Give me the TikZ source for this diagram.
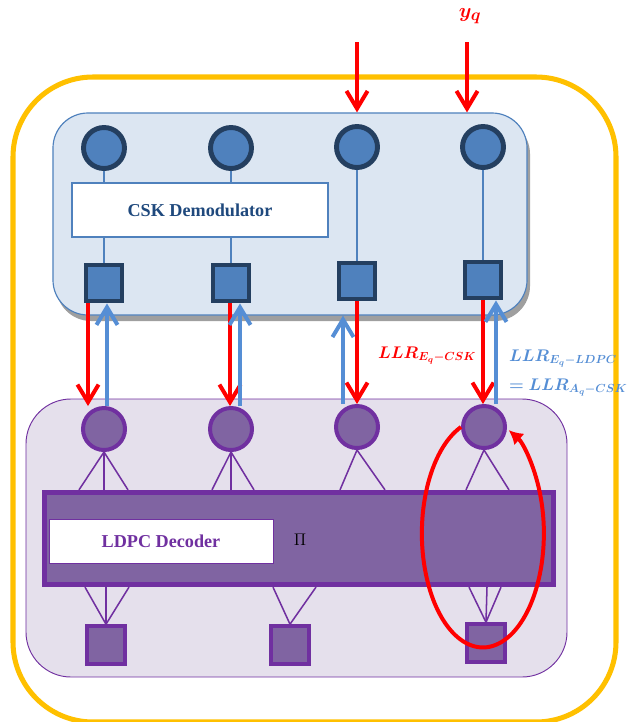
\documentclass[tikz,border=0pt]{standalone}
\usepackage{fontspec}
\setmainfont{Liberation Serif}
\usepackage{amsmath,bm}
\usetikzlibrary{positioning, arrows.meta}

\definecolor{cskfill}{HTML}{DCE6F2}
\definecolor{cskblue}{HTML}{4F81BD}
\definecolor{cskdark}{HTML}{243F60}
\definecolor{csktext}{HTML}{1F497D}
\definecolor{ldpcfill}{HTML}{E5E0EC}
\definecolor{ldpcpurple}{HTML}{7030A0}
\definecolor{ldpclilac}{HTML}{8064A2}
\definecolor{frameyellow}{HTML}{FFC000}
\definecolor{llrblue}{HTML}{558ED5}

\tikzset{
	symnode/.style={circle, draw=cskdark, line width=4.2pt, fill=cskblue, minimum size=1.23cm, inner sep=0pt},
	symbox/.style={rectangle, draw=cskdark, line width=4.2pt, fill=cskblue, minimum size=1.08cm, inner sep=0pt},
	varnode/.style={circle, draw=ldpcpurple, line width=3.4pt, fill=ldpclilac, minimum size=1.26cm, inner sep=0pt},
	chknode/.style={rectangle, draw=ldpcpurple, line width=3.6pt, fill=ldpclilac, minimum size=1.12cm, inner sep=0pt},
	redarrow/.style={red, line width=3.4pt, -{Straight Barb[length=15pt, width=18pt]}},
	bluearrow/.style={llrblue, line width=3.4pt, -{Straight Barb[length=15pt, width=18pt]}},
	cskline/.style={cskblue, line width=1.3pt},
	ldpcline/.style={ldpcpurple, line width=1.3pt},
	llrlabel/.style={anchor=base west, inner sep=0pt, font=\fontsize{14.5}{17}\selectfont}
}

\begin{document}
\begin{tikzpicture}[x=0.03cm, y=-0.03cm]
		\useasboundingbox (0, 0) rectangle (627, 722);
		% outer frame
		\draw[frameyellow, line width=4.3pt, rounded corners=2.4cm] (13, 77) rectangle (616, 722);

		% CSK demodulator panel
		\node[rectangle, rounded corners=1.05cm, fill=gray!75, minimum width=14.22cm, minimum height=6.06cm] at (293, 220) {};
		\node[rectangle, rounded corners=1.05cm, draw=cskblue, line width=1pt, fill=cskfill, minimum width=14.22cm, minimum height=6.06cm] (csk) at (290, 214) {};
		\node[rectangle, draw=cskblue, line width=0.9pt, fill=white, minimum width=7.68cm, minimum height=1.62cm,
			font=\fontsize{15.5}{18}\selectfont\bfseries, text=csktext] (demod) at (200, 210) {CSK Demodulator};
		\node[symnode] (u1) at (104, 148) {};
		\node[symnode] (u2) at (231, 148) {};
		\node[symnode] (u3) at (357, 147) {};
		\node[symnode] (u4) at (483, 147) {};
		\node[symbox] (s1) at (104, 283) {};
		\node[symbox] (s2) at (231, 283) {};
		\node[symbox] (s3) at (357, 281) {};
		\node[symbox] (s4) at (483, 280) {};
		\draw[cskline] (u1) -- (u1 |- demod.north);
		\draw[cskline] (u2) -- (u2 |- demod.north);
		\draw[cskline] (demod.south -| s1) -- (s1);
		\draw[cskline] (demod.south -| s2) -- (s2);
		\draw[cskline] (u3) -- (s3);
		\draw[cskline] (u4) -- (s4);

		% received samples
		\coordinate (in3) at (357, 42);
		\coordinate (in4) at (467, 42);
		\node[red, font=\fontsize{19}{22}\selectfont] (yq) at (470, 16) {$\bm{y_q}$};
		\draw[redarrow] (in3) -- (csk.north -| in3);
		\draw[redarrow] (in4) -- (csk.north -| in4);

		% LDPC decoder panel
		\node[rectangle, rounded corners=1.35cm, draw=ldpcpurple, line width=0.8pt, fill=ldpcfill, minimum width=16.23cm, minimum height=8.34cm] (ldpc) at (296.5, 538) {};
		\node[rectangle, draw=ldpcpurple, line width=4.5pt, fill=ldpclilac, minimum width=15.27cm, minimum height=2.76cm] (bar) at (299, 538.5) {};
		\node[rectangle, draw=ldpcpurple, line width=0.8pt, fill=white, minimum width=6.72cm, minimum height=1.32cm,
			font=\fontsize{15.5}{18}\selectfont\bfseries, text=ldpcpurple] (dec) at (161, 541) {LDPC Decoder};
		\node[font=\fontsize{14}{16}\selectfont] (pi) at (300, 540) {$\Pi$};
		\node[varnode] (v1) at (104, 429) {};
		\node[varnode] (v2) at (231, 429) {};
		\node[varnode] (v3) at (357, 427) {};
		\node[varnode] (v4) at (484, 427) {};
		\node[chknode] (c1) at (106, 645) {};
		\node[chknode] (c2) at (290, 645) {};
		\node[chknode] (c3) at (486, 643) {};
		\foreach \x in {79, 104, 128} \draw[ldpcline] (v1.south) -- (bar.north -| \x, 0);
		\foreach \x in {212, 231, 254} \draw[ldpcline] (v2.south) -- (bar.north -| \x, 0);
		\foreach \x in {340, 385} \draw[ldpcline] (v3.south) -- (bar.north -| \x, 0);
		\foreach \x in {466, 509} \draw[ldpcline] (v4.south) -- (bar.north -| \x, 0);
		\foreach \x in {85, 106, 129} \draw[ldpcline] (bar.south -| \x, 0) -- (c1.north);
		\foreach \x in {273, 316} \draw[ldpcline] (bar.south -| \x, 0) -- (c2.north);
		\foreach \x in {469, 487, 501} \draw[ldpcline] (bar.south -| \x, 0) -- (c3.north);

		% extrinsic information exchange
		\draw[redarrow] (s1.south -| 88, 0) -- (v1.north -| 88, 0);
		\draw[bluearrow] (v1.north -| 107, 0) -- (s1.south -| 107, 0);
		\draw[redarrow] (s2.south -| 230, 0) -- (v2.north -| 230, 0);
		\draw[bluearrow] (v2.north -| 240, 0) -- (s2.south -| 240, 0);
		\draw[bluearrow] (v3.north -| 343, 0) -- (csk.south -| 343, 0);
		\draw[redarrow] (s3.south -| 357, 0) -- (v3.north -| 357, 0);
		\draw[redarrow] (s4.south -| 483, 0) -- (v4.north -| 483, 0);
		\draw[bluearrow] (v4.north -| 496, 0) -- (s4.south -| 496, 0);
		\node[llrlabel, red] (llrcsk) at (378, 358) {$\bm{LLR_{E_q-CSK}}$};
		\node[llrlabel, llrblue, font=\fontsize{13.6}{16}\selectfont] (llrldpc) at (509, 361) {$\bm{LLR_{E_q-LDPC}}$};
		\node[llrlabel, llrblue, font=\fontsize{13.6}{16}\selectfont] (llrapr) at (509, 390) {$\bm{=LLR_{A_q-CSK}}$};

		% iterative loop
		\draw[red, line width=3.4pt, -{Latex[length=12pt, width=13pt]}] (v4.west) arc[start angle=249, end angle=-65, x radius=61, y radius=114];
	\end{tikzpicture}
\end{document}
